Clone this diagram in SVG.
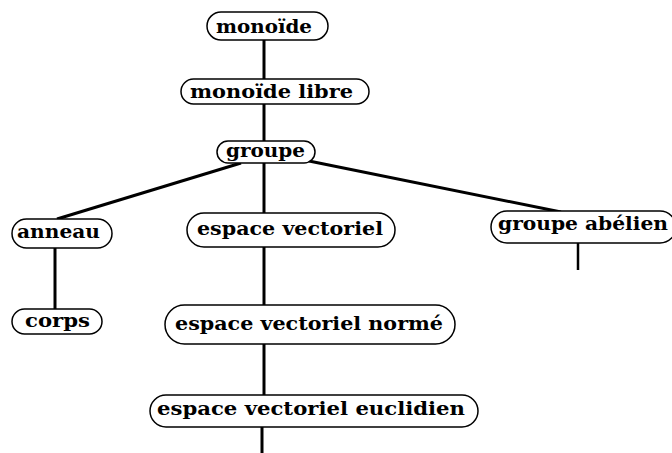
<svg xmlns="http://www.w3.org/2000/svg" width="672" height="453" viewBox="0 0 672 453">
<style>
.pill{fill:#fff;stroke:#000;stroke-width:1.5}
.t{font-family:"DejaVu Serif","Liberation Serif",serif;font-weight:bold;font-size:18px;fill:#000}
.e{stroke:#000;stroke-width:3;fill:none}
</style>
<rect width="672" height="453" fill="#fff"/>
<g id="connectors">
<line class="e" x1="264" y1="40" x2="264" y2="80"/>
<line class="e" x1="264" y1="103" x2="264" y2="141"/>
<line class="e" x1="264" y1="163" x2="264" y2="214"/>
<line class="e" x1="241" y1="163" x2="57" y2="219"/>
<line class="e" x1="309" y1="161" x2="561" y2="212"/>
<line class="e" x1="55" y1="248" x2="55" y2="309"/>
<line class="e" x1="264" y1="247" x2="264" y2="305"/>
<line class="e" x1="264" y1="344" x2="264" y2="395"/>
<line class="e" x1="262" y1="427" x2="262" y2="453"/>
<line class="e" x1="578" y1="243" x2="578" y2="270" style="stroke-width:2.5"/>
</g>
<g id="monoide"><rect class="pill" x="207" y="12" width="121" height="28" rx="14"/><text class="t" x="216" y="33" textLength="96" lengthAdjust="spacingAndGlyphs">monoïde</text></g>
<g id="monoide-libre"><rect class="pill" x="181" y="79" width="188" height="25" rx="12.5"/><text class="t" x="190" y="98" textLength="163" lengthAdjust="spacingAndGlyphs">monoïde libre</text></g>
<g id="groupe"><rect class="pill" x="217" y="141" width="98" height="22" rx="11"/><text class="t" x="226" y="157" textLength="79" lengthAdjust="spacingAndGlyphs">groupe</text></g>
<g id="anneau"><rect class="pill" x="12" y="219" width="100" height="29" rx="14.5"/><text class="t" x="17" y="238" textLength="83" lengthAdjust="spacingAndGlyphs">anneau</text></g>
<g id="espace-vectoriel"><rect class="pill" x="187" y="213" width="208" height="34" rx="17"/><text class="t" x="197" y="235" textLength="186" lengthAdjust="spacingAndGlyphs">espace vectoriel</text></g>
<g id="groupe-abelien"><rect class="pill" x="491" y="211" width="185" height="32" rx="16"/><text class="t" x="498" y="230" textLength="170" lengthAdjust="spacingAndGlyphs">groupe abélien</text></g>
<g id="corps"><rect class="pill" x="12" y="309" width="90" height="25" rx="12.5"/><text class="t" x="25" y="327" textLength="65" lengthAdjust="spacingAndGlyphs">corps</text></g>
<g id="espace-vectoriel-norme"><rect class="pill" x="165" y="305" width="290" height="39" rx="19.5"/><text class="t" x="175" y="330" textLength="268" lengthAdjust="spacingAndGlyphs">espace vectoriel normé</text></g>
<g id="espace-vectoriel-euclidien"><rect class="pill" x="150" y="395" width="328" height="32" rx="16"/><text class="t" x="157" y="415" textLength="308" lengthAdjust="spacingAndGlyphs">espace vectoriel euclidien</text></g>
</svg>
